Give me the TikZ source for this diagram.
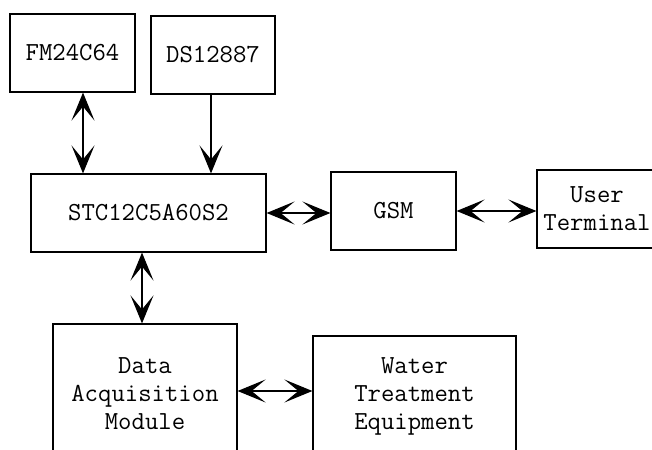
\documentclass[tikz,border=0pt]{standalone}
\usepackage{fontspec}
\setmonofont{Latin Modern Mono}
\usetikzlibrary{arrows.meta,calc}
\begin{document}
\begin{tikzpicture}[x=1pt,y=-1pt,
  box/.style={draw,line width=1.2pt,inner sep=0pt,align=center,
    font=\ttfamily\fontsize{26}{28}\selectfont},
  arr/.style={line width=1.2pt,{Stealth[length=28pt,width=23pt,inset=14pt]}-{Stealth[length=28pt,width=23pt,inset=14pt]}},
  arrone/.style={line width=1.2pt,-{Stealth[length=28pt,width=23pt,inset=14pt]}}]
\useasboundingbox (0,0) rectangle (652,449);
\node[box,minimum width=125pt,minimum height=78pt] (fm) at (72.5,53) {FM24C64};
\node[box,minimum width=124pt,minimum height=78pt] (ds) at (213,55) {DS12887};
\node[box,minimum width=235pt,minimum height=78pt] (stc) at (148.5,213) {STC12C5A60S2};
\node[box,minimum width=125pt,minimum height=78pt] (gsm) at (393.5,211) {GSM};
\node[box,minimum width=120pt,minimum height=78pt] (ut) at (597,209) {User\\Terminal};
\node[box,minimum width=184pt,minimum height=140pt] (dam) at (145,394) {Data\\Acquisition\\Module};
\node[box,minimum width=203pt,minimum height=120pt] (wte) at (414.5,396) {Water\\Treatment\\Equipment};
\draw[arr] (83,0 |- fm.south) -- (83,0 |- stc.north);
\draw[arrone] (211,0 |- ds.south) -- (211,0 |- stc.north);
\draw[arr] (142,0 |- stc.south) -- (142,0 |- dam.north);
\draw[arr] (stc.east) -- (stc.east -| gsm.west);
\draw[arr] (gsm.east) -- (gsm.east -| ut.west);
\draw[arr] (0,391 -| dam.east) -- (0,391 -| wte.west);
\end{tikzpicture}
\end{document}
